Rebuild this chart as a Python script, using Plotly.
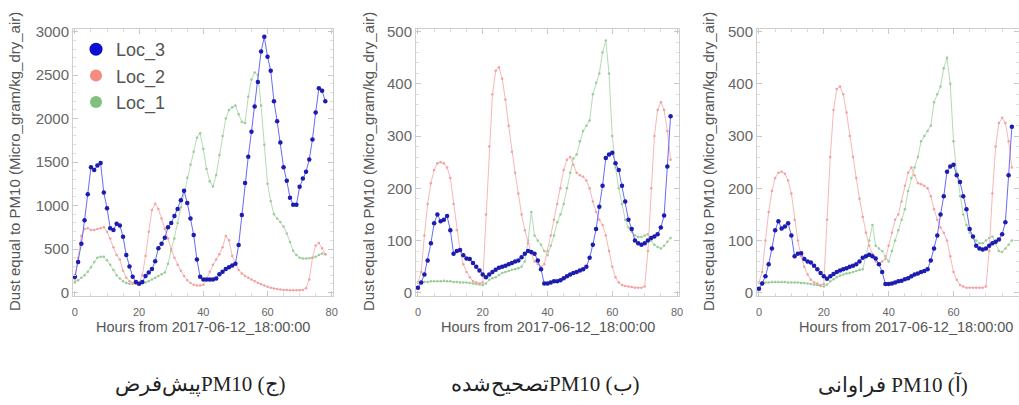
import plotly.graph_objects as go

hours = list(range(79))

# ---- Panel (ج) default PM10 ----
def_loc3 = [180,350,560,830,1130,1440,1410,1460,1490,1150,970,740,720,790,770,640,430,300,180,120,
            100,120,190,230,270,360,510,560,630,750,800,880,960,1060,1170,1030,850,660,380,180,
            150,150,150,150,160,210,240,270,290,310,330,545,890,1260,1560,1850,2140,2420,2770,2940,
            2710,2550,2200,1970,1725,1440,1285,1090,1010,1010,1215,1310,1390,1530,1760,2070,2350,2320,2200]
def_loc2 = [150,400,650,730,740,720,720,730,740,750,700,620,520,430,380,250,170,130,110,100,
            110,200,420,700,950,1020,960,850,730,620,500,400,320,250,190,140,110,90,80,80,
            90,150,240,320,380,440,520,650,600,420,330,260,220,190,170,150,130,110,95,80,
            65,55,45,40,35,30,28,25,25,25,25,30,50,150,400,540,570,510,440]
def_loc1 = [120,140,170,200,240,290,350,400,410,410,370,320,260,200,160,130,110,100,100,100,
            100,105,115,130,150,170,190,210,230,330,480,620,800,980,1150,1320,1470,1620,1780,1830,
            1650,1420,1280,1220,1350,1580,1800,2000,2100,2130,2150,2050,1960,1950,2250,2450,2530,2500,2150,1700,
            1250,1050,900,850,810,760,680,580,480,430,400,390,390,395,400,410,430,450,440]

# ---- Panel (ب) corrected PM10 ----
cor_loc3 = [10,20,35,62,95,133,150,137,140,147,120,75,80,82,72,66,65,57,50,43,
            35,30,35,40,44,48,50,52,55,57,60,62,68,75,80,78,75,62,45,18,
            18,20,22,22,24,28,32,35,38,40,43,45,50,67,92,122,165,205,258,265,
            268,248,235,205,175,140,122,100,95,92,95,100,105,108,112,125,148,242,338]
cor_loc2 = [20,40,110,170,210,235,248,250,248,240,220,170,120,80,55,40,30,22,20,18,
            20,150,280,380,425,432,410,370,320,270,230,190,150,120,95,75,60,55,50,55,
            80,110,140,170,200,235,255,260,245,230,225,222,215,200,175,155,140,130,110,80,
            50,30,20,15,13,12,11,10,10,10,12,80,200,300,350,365,350,310,255]
cor_loc1 = [20,20,21,21,22,22,22,22,23,22,22,21,21,20,20,20,19,18,17,16,
            15,18,25,28,30,34,38,40,42,44,45,47,50,60,100,155,110,100,92,80,
            72,90,110,135,150,170,200,230,257,265,290,310,320,330,380,402,420,460,483,420,
            300,240,200,170,140,125,117,110,107,107,110,112,100,92,88,85,90,98,105]

# ---- Panel (آ) frequency PM10 ----
frq_loc3 = [8,18,32,55,85,120,137,123,127,133,110,70,75,76,65,60,58,52,45,38,
            32,27,32,36,40,43,45,47,50,52,55,60,67,70,73,70,66,55,40,17,
            17,18,20,22,23,26,28,32,35,37,40,42,45,62,85,110,150,185,232,242,
            245,225,212,185,160,122,108,90,85,83,85,90,95,98,102,112,135,225,318]
frq_loc2 = [20,40,100,155,195,220,230,232,228,215,190,140,100,70,50,35,25,20,18,15,
            17,140,260,350,390,395,380,345,300,260,220,180,145,115,90,75,60,55,60,65,
            90,115,140,150,175,205,230,240,225,210,208,205,200,185,160,140,125,115,100,70,
            40,25,15,12,10,10,10,10,10,10,12,80,190,280,325,335,325,290,240]
frq_loc1 = [20,20,20,20,21,21,21,21,21,20,20,20,20,19,19,18,17,16,15,13,
            12,16,22,26,30,33,35,37,38,40,42,44,45,70,100,130,90,85,80,70,
            60,80,100,120,140,160,195,220,240,260,290,300,310,320,365,380,395,430,450,400,
            290,230,185,150,130,115,105,100,95,95,100,105,108,95,80,78,85,92,100]

panels = [
    dict(l3=def_loc3, l2=def_loc2, l1=def_loc1, yr=[-40, 3030], dtick=500, xd=[73, 333]),
    dict(l3=cor_loc3, l2=cor_loc2, l1=cor_loc1, yr=[-6, 505], dtick=100, xd=[416, 679]),
    dict(l3=frq_loc3, l2=frq_loc2, l1=frq_loc1, yr=[-6, 505], dtick=100, xd=[757, 1019]),
]
x_ranges = [[-0.6, 80.4], [-0.6, 80.6], [-0.6, 80.2]]

W, H = 1019, 405
ytop, ybot = 29, 296

fig = go.Figure()
layout = dict(width=W, height=H, margin=dict(l=0, r=0, t=0, b=0, pad=0, autoexpand=False),
              paper_bgcolor="white", plot_bgcolor="white", showlegend=True)

for i, p in enumerate(panels):
    sfx = "" if i == 0 else str(i + 1)
    xa, ya = "x" + sfx, "y" + sfx
    fig.add_trace(go.Scatter(x=hours[:len(p["l1"])], y=p["l1"], xaxis=xa, yaxis=ya, mode="lines+markers",
                             line=dict(color="#b4dcb4", width=1), marker=dict(size=2.5, color="#98cc98"),
                             showlegend=False, name="Loc_1"))
    fig.add_trace(go.Scatter(x=hours[:len(p["l2"])], y=p["l2"], xaxis=xa, yaxis=ya, mode="lines+markers",
                             line=dict(color="#f7b8b8", width=1), marker=dict(size=2.5, color="#f2a0a0"),
                             showlegend=False, name="Loc_2"))
    fig.add_trace(go.Scatter(x=hours[:len(p["l3"])], y=p["l3"], xaxis=xa, yaxis=ya, mode="lines+markers",
                             line=dict(color="#6a6af5", width=1), marker=dict(size=4.5, color="#1c1cb0"),
                             showlegend=False, name="Loc_3"))
    axis_common = dict(showgrid=False, zeroline=False, showline=True, linecolor="#cfcfcf", linewidth=1,
                       mirror="ticks", ticks="inside", tickcolor="#c8c8c8", ticklen=5, automargin=False,
                       minor=dict(ticks="inside", ticklen=3, tickcolor="#dddddd"))
    layout["xaxis" + sfx] = dict(axis_common, domain=[p["xd"][0] / W, p["xd"][1] / W], range=x_ranges[i],
                                 anchor=ya, tickvals=[0, 20, 40, 60, 80], ticklabelstandoff=6,
                                 tickfont=dict(family="Liberation Sans, Arial", size=11, color="#666"))
    layout["yaxis" + sfx] = dict(axis_common, domain=[1 - ybot / H, 1 - ytop / H], range=p["yr"],
                                 anchor=xa, dtick=p["dtick"],
                                 tickfont=dict(family="Liberation Sans, Arial", size=15, color="#666"))

# legend entries (panel ج only)
for nm, col, sz in [("Loc_3", "#0c0cd2", 13), ("Loc_2", "#f48a80", 12), ("Loc_1", "#7fbf7f", 12)]:
    fig.add_trace(go.Scatter(x=[None], y=[None], mode="markers", name=nm,
                             marker=dict(size=sz, color=col), showlegend=True))

layout["legend"] = dict(x=76 / W, y=1 - 31 / H, xanchor="left", yanchor="top", bgcolor="rgba(0,0,0,0)",
                        font=dict(family="Liberation Sans, Arial", size=18, color="#555"),
                        tracegroupgap=0, itemwidth=30)

ytitle = "Dust equal to PM10 (Micro_gram/kg_dry_air)"
xtitle = "Hours from 2017-06-12_18:00:00"
captions = ["\u202B(ج) PM10پیش\u200cفرض\u202C", "\u202B(ب) PM10تصحیح\u200cشده\u202C", "\u202B(آ) PM10 فراوانی\u202C"]
ytitle_x = [14, 368, 708]
xtitle_x = [203, 548, 906]
caption_x = [200, 545, 893]

anns = []
for i in range(3):
    anns.append(dict(text=ytitle, x=ytitle_x[i] / W, y=1 - 162 / H, xref="paper", yref="paper",
                     showarrow=False, textangle=-90, xanchor="center", yanchor="middle",
                     font=dict(family="Liberation Sans, Arial", size=15, color="#555")))
    anns.append(dict(text=xtitle, x=xtitle_x[i] / W, y=1 - 327 / H, xref="paper", yref="paper",
                     showarrow=False, xanchor="center", yanchor="middle",
                     font=dict(family="Liberation Sans, Arial", size=14.5, color="#555")))
    anns.append(dict(text=captions[i], x=caption_x[i] / W, y=1 - 384 / H, xref="paper", yref="paper",
                     showarrow=False, xanchor="center", yanchor="middle",
                     font=dict(family="Liberation Serif, DejaVu Serif, serif", size=21, color="#222")))
layout["annotations"] = anns

fig.update_layout(**layout)
fig.write_html("out.html", config={"displayModeBar": False},
               post_script="document.body.style.margin='0';document.body.style.padding='0';")
